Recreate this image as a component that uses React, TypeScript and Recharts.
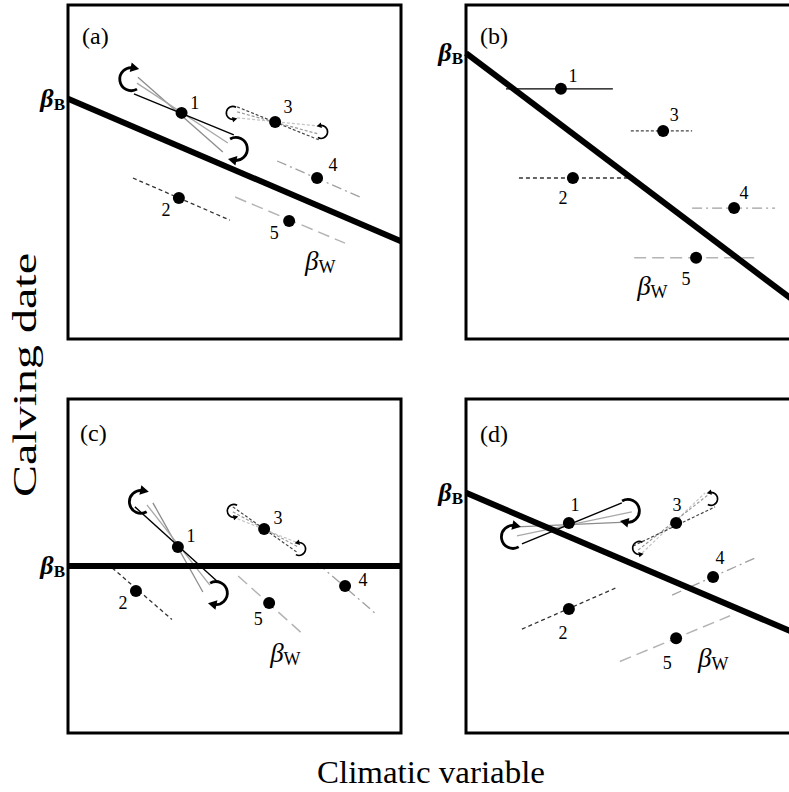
import React from 'react';
import { ScatterChart, Scatter, XAxis, YAxis, ReferenceLine, ReferenceArea } from 'recharts';

const FONT = '"Liberation Serif", "Times New Roman", Times, serif';

// ---------- panel-level data ----------
const panelNames = ['(a)', '(b)', '(c)', '(d)'];
const panelNamePos = [
  { x: 0.42, y: 9.07 },
  { x: 0.42, y: 9.07 },
  { x: 0.36, y: 8.98 },
  { x: 0.42, y: 8.95 },
];
// between-individual slope: y at x = 0 (intercept, labelled beta_B) and y at x = 10
const betweenStart = [7.19, 8.56, 5.0, 7.19];
const betweenEnd = [2.93, 1.03, 5.0, 2.94];
// position of the beta_W label
const withinLabelPos = [
  { x: 7.12, y: 2.07 },
  { x: 5.14, y: 1.32 },
  { x: 6.07, y: 2.13 },
  { x: 6.97, y: 1.98 },
];

type Pt = { id: string; x: number; y: number };
type Seg = { ind: number; tone: number; x1: number; y1: number; x2: number; y2: number };
type Arw = { x: number; y: number; kind: 'Lup' | 'Rdown' | 'Ldown' | 'Rup'; size: 'L' | 'S' };

// ---------- panel (a) ----------
const pointsA: Pt[] = [
  { id: '1', x: 3.41, y: 6.77 },
  { id: '2', x: 3.33, y: 4.22 },
  { id: '3', x: 6.22, y: 6.5 },
  { id: '4', x: 7.48, y: 4.82 },
  { id: '5', x: 6.64, y: 3.53 },
];
const labelsA: Pt[] = [
  { id: '1', x: 3.81, y: 7.07 },
  { id: '2', x: 2.94, y: 3.86 },
  { id: '3', x: 6.61, y: 6.95 },
  { id: '4', x: 7.96, y: 5.21 },
  { id: '5', x: 6.19, y: 3.17 },
];
const slopesA: Seg[] = [
  { ind: 1, tone: 1, x1: 2.1, y1: 7.84, x2: 4.65, y2: 5.6 },
  { ind: 1, tone: 2, x1: 2.07, y1: 7.66, x2: 4.8, y2: 5.87 },
  { ind: 1, tone: 0, x1: 1.98, y1: 7.34, x2: 4.98, y2: 6.11 },
  { ind: 2, tone: 0, x1: 1.95, y1: 4.82, x2: 4.86, y2: 3.56 },
  { ind: 3, tone: 2, x1: 5.08, y1: 6.62, x2: 7.51, y2: 6.38 },
  { ind: 3, tone: 1, x1: 5.08, y1: 6.8, x2: 7.51, y2: 6.14 },
  { ind: 3, tone: 0, x1: 5.08, y1: 6.95, x2: 7.54, y2: 5.96 },
  { ind: 4, tone: 0, x1: 6.28, y1: 5.33, x2: 8.77, y2: 4.25 },
  { ind: 5, tone: 0, x1: 5.02, y1: 4.25, x2: 8.32, y2: 2.87 },
];
const arrowsA: Arw[] = [
  { x: 1.9, y: 7.78, kind: 'Lup', size: 'L' },
  { x: 5.04, y: 5.69, kind: 'Rdown', size: 'L' },
  { x: 4.95, y: 6.77, kind: 'Ldown', size: 'S' },
  { x: 7.6, y: 6.2, kind: 'Rup', size: 'S' },
];

// ---------- panel (b) ----------
const pointsB: Pt[] = [
  { id: '1', x: 2.85, y: 7.49 },
  { id: '2', x: 3.21, y: 4.82 },
  { id: '3', x: 5.92, y: 6.23 },
  { id: '4', x: 8.05, y: 3.92 },
  { id: '5', x: 6.91, y: 2.43 },
];
const labelsB: Pt[] = [
  { id: '1', x: 3.21, y: 7.87 },
  { id: '2', x: 2.91, y: 4.22 },
  { id: '3', x: 6.25, y: 6.71 },
  { id: '4', x: 8.35, y: 4.37 },
  { id: '5', x: 6.61, y: 1.8 },
];
const slopesB: Seg[] = [
  { ind: 1, tone: 0, x1: 1.2, y1: 7.49, x2: 4.41, y2: 7.49 },
  { ind: 2, tone: 0, x1: 1.59, y1: 4.82, x2: 4.89, y2: 4.82 },
  { ind: 3, tone: 0, x1: 4.95, y1: 6.23, x2: 6.79, y2: 6.23 },
  { ind: 4, tone: 0, x1: 6.79, y1: 3.92, x2: 9.28, y2: 3.92 },
  { ind: 5, tone: 0, x1: 5.05, y1: 2.43, x2: 8.8, y2: 2.43 },
];
const arrowsB: Arw[] = [];

// ---------- panel (c) ----------
const pointsC: Pt[] = [
  { id: '1', x: 3.3, y: 5.57 },
  { id: '2', x: 2.04, y: 4.25 },
  { id: '3', x: 5.89, y: 6.11 },
  { id: '4', x: 8.32, y: 4.4 },
  { id: '5', x: 6.04, y: 3.89 },
];
const labelsC: Pt[] = [
  { id: '1', x: 3.69, y: 5.9 },
  { id: '2', x: 1.65, y: 3.89 },
  { id: '3', x: 6.31, y: 6.44 },
  { id: '4', x: 8.86, y: 4.58 },
  { id: '5', x: 5.71, y: 3.41 },
];
const slopesC: Seg[] = [
  { ind: 1, tone: 1, x1: 2.55, y1: 6.89, x2: 4.05, y2: 4.22 },
  { ind: 1, tone: 2, x1: 2.37, y1: 6.83, x2: 4.26, y2: 4.43 },
  { ind: 1, tone: 0, x1: 2.01, y1: 6.77, x2: 4.47, y2: 4.55 },
  { ind: 2, tone: 0, x1: 1.17, y1: 5.08, x2: 3.12, y2: 3.4 },
  { ind: 3, tone: 2, x1: 4.95, y1: 6.47, x2: 6.91, y2: 5.69 },
  { ind: 3, tone: 1, x1: 4.95, y1: 6.62, x2: 6.91, y2: 5.57 },
  { ind: 3, tone: 0, x1: 4.95, y1: 6.77, x2: 6.91, y2: 5.39 },
  { ind: 4, tone: 0, x1: 7.48, y1: 5.09, x2: 9.22, y2: 3.59 },
  { ind: 5, tone: 0, x1: 5.11, y1: 4.7, x2: 7.12, y2: 2.9 },
];
const arrowsC: Arw[] = [
  { x: 2.19, y: 6.92, kind: 'Lup', size: 'L' },
  { x: 4.44, y: 4.19, kind: 'Rdown', size: 'L' },
  { x: 4.98, y: 6.65, kind: 'Ldown', size: 'S' },
  { x: 6.94, y: 5.51, kind: 'Rup', size: 'S' },
];

// ---------- panel (d) ----------
const pointsD: Pt[] = [
  { id: '1', x: 3.09, y: 6.29 },
  { id: '2', x: 3.09, y: 3.71 },
  { id: '3', x: 6.31, y: 6.29 },
  { id: '4', x: 7.42, y: 4.67 },
  { id: '5', x: 6.31, y: 2.84 },
];
const labelsD: Pt[] = [
  { id: '1', x: 3.27, y: 6.83 },
  { id: '2', x: 2.91, y: 2.99 },
  { id: '3', x: 6.34, y: 6.83 },
  { id: '4', x: 7.63, y: 5.24 },
  { id: '5', x: 6.04, y: 2.1 },
];
const slopesD: Seg[] = [
  { ind: 1, tone: 1, x1: 1.53, y1: 6.17, x2: 4.98, y2: 6.32 },
  { ind: 1, tone: 2, x1: 1.53, y1: 5.9, x2: 4.98, y2: 6.62 },
  { ind: 1, tone: 0, x1: 1.68, y1: 5.66, x2: 4.68, y2: 6.89 },
  { ind: 2, tone: 0, x1: 1.68, y1: 3.11, x2: 4.56, y2: 4.37 },
  { ind: 3, tone: 2, x1: 5.29, y1: 5.39, x2: 7.18, y2: 7.19 },
  { ind: 3, tone: 1, x1: 5.17, y1: 5.48, x2: 7.27, y2: 7.13 },
  { ind: 3, tone: 0, x1: 5.02, y1: 5.6, x2: 7.48, y2: 6.77 },
  { ind: 4, tone: 0, x1: 6.19, y1: 4.13, x2: 8.68, y2: 5.24 },
  { ind: 5, tone: 0, x1: 4.62, y1: 2.14, x2: 7.93, y2: 3.51 },
];
const arrowsD: Arw[] = [
  { x: 1.41, y: 5.87, kind: 'Lup', size: 'L' },
  { x: 4.86, y: 6.65, kind: 'Rdown', size: 'L' },
  { x: 5.2, y: 5.54, kind: 'Ldown', size: 'S' },
  { x: 7.36, y: 7.01, kind: 'Rup', size: 'S' },
];

const panels = [
  { points: pointsA, labels: labelsA, slopes: slopesA, arrows: arrowsA },
  { points: pointsB, labels: labelsB, slopes: slopesB, arrows: arrowsB },
  { points: pointsC, labels: labelsC, slopes: slopesC, arrows: arrowsC },
  { points: pointsD, labels: labelsD, slopes: slopesD, arrows: arrowsD },
];

// ---------- styles ----------
function segStyle(ind: number, tone: number) {
  if (ind === 1) {
    if (tone === 0) return { stroke: '#000', w: 1.4, dash: undefined as string | undefined };
    if (tone === 1) return { stroke: '#8c8c8c', w: 1.3, dash: undefined };
    return { stroke: '#a8a8a8', w: 1.3, dash: undefined };
  }
  if (ind === 2) return { stroke: '#333', w: 1.3, dash: '4 3' };
  if (ind === 3) {
    if (tone === 0) return { stroke: '#444', w: 1.2, dash: '3 2' };
    if (tone === 1) return { stroke: '#9a9a9a', w: 1.2, dash: '3 2' };
    return { stroke: '#c4c4c4', w: 1.2, dash: '3 2' };
  }
  if (ind === 4) return { stroke: '#a0a0a0', w: 1.3, dash: '10 4 2 4' };
  return { stroke: '#b4b4b4', w: 1.5, dash: '12 6' };
}

const BetaBTick = (props: any) => {
  const { x, y } = props;
  return (
    <text x={x} y={y + 8} textAnchor="end" fontFamily={FONT} fontWeight="bold" fill="#000">
      <tspan fontStyle="italic" fontSize={26}>β</tspan>
      <tspan fontSize={17} dy={3}>B</tspan>
    </text>
  );
};

const dotShape = (p: any) => <circle cx={p.cx} cy={p.cy} r={6} fill="#000" />;

const numShape = (p: any) => (
  <text x={p.cx} y={p.cy} textAnchor="middle" dominantBaseline="central" fontFamily={FONT} fontSize={18} fill="#000">
    {p.payload.id}
  </text>
);

const betaWShape = (p: any) => (
  <text x={p.cx} y={p.cy} fontFamily={FONT} fill="#000">
    <tspan fontStyle="italic" fontSize={27}>β</tspan>
    <tspan fontSize={18} dy={3}>W</tspan>
  </text>
);

const makeNameShape = (name: string) => (p: any) => (
  <text x={p.cx} y={p.cy} dominantBaseline="central" fontFamily={FONT} fontSize={24} fill="#000">
    {name}
  </text>
);

const arrowShape = (p: any) => {
  const { kind, size } = p.payload as Arw;
  const r = size === 'L' ? 11.5 : 6.5;
  const sw = size === 'L' ? 2.8 : 1.6;
  const sx = kind === 'Rdown' || kind === 'Rup' ? -1 : 1;
  const sy = kind === 'Rdown' || kind === 'Ldown' ? -1 : 1;
  const a0 = (60 * Math.PI) / 180;
  const a1 = (282 * Math.PI) / 180;
  const p0 = [r * Math.cos(a0), r * Math.sin(a0)];
  const p1 = [r * Math.cos(a1), r * Math.sin(a1)];
  const t = [-Math.sin(a1), Math.cos(a1)];
  const n = [-t[1], t[0]];
  const h = r * 0.75;
  const w = r * 0.42;
  const tip = [p1[0] + t[0] * h * 0.65, p1[1] + t[1] * h * 0.65];
  const b1 = [p1[0] - t[0] * h * 0.35 + n[0] * w, p1[1] - t[1] * h * 0.35 + n[1] * w];
  const b2 = [p1[0] - t[0] * h * 0.35 - n[0] * w, p1[1] - t[1] * h * 0.35 - n[1] * w];
  return (
    <g transform={`translate(${p.cx},${p.cy}) scale(${sx},${sy})`}>
      <path
        d={`M${p0[0]},${p0[1]} A${r},${r} 0 1 1 ${p1[0]},${p1[1]}`}
        fill="none"
        stroke="#000"
        strokeWidth={sw}
      />
      <polygon points={`${tip[0]},${tip[1]} ${b1[0]},${b1[1]} ${b2[0]},${b2[1]}`} fill="#000" />
    </g>
  );
};

const PLOT_W = 333;
const PLOT_H = 334;
const AXIS_W = 68;

function Panel({ i, left, top }: { i: number; left: number; top: number }) {
  const d = panels[i];
  return (
    <div style={{ position: 'absolute', left, top }}>
      <ScatterChart
        width={AXIS_W + PLOT_W + 3}
        height={PLOT_H + 6}
        margin={{ top: 3, right: 3, bottom: 3, left: 0 }}
      >
        <XAxis type="number" dataKey="x" domain={[0, 10]} hide />
        <YAxis
          type="number"
          dataKey="y"
          domain={[0, 10]}
          width={AXIS_W}
          ticks={[betweenStart[i]]}
          interval={0}
          axisLine={false}
          tickLine={false}
          tickSize={0}
          tickMargin={3}
          tick={<BetaBTick />}
        />
        <ReferenceArea x1={0} x2={10} y1={0} y2={10} fill="none" fillOpacity={0} stroke="#000" strokeWidth={3} />
        {d.slopes.map((s, k) => {
          const st = segStyle(s.ind, s.tone);
          return (
            <ReferenceLine
              key={k}
              segment={[
                { x: s.x1, y: s.y1 },
                { x: s.x2, y: s.y2 },
              ]}
              stroke={st.stroke}
              strokeWidth={st.w}
              strokeDasharray={st.dash}
            />
          );
        })}
        <ReferenceLine
          segment={[
            { x: 0, y: betweenStart[i] },
            { x: 10, y: betweenEnd[i] },
          ]}
          stroke="#000"
          strokeWidth={6}
        />
        <Scatter data={d.points} shape={dotShape} isAnimationActive={false} />
        <Scatter data={d.labels} shape={numShape} isAnimationActive={false} />
        <Scatter data={d.arrows} shape={arrowShape} isAnimationActive={false} />
        <Scatter data={[panelNamePos[i]]} shape={makeNameShape(panelNames[i])} isAnimationActive={false} />
        <Scatter data={[withinLabelPos[i]]} shape={betaWShape} isAnimationActive={false} />
      </ScatterChart>
    </div>
  );
}

export default function App() {
  return (
    <div
      style={{
        position: 'absolute',
        left: 0,
        top: 0,
        width: 789,
        height: 792,
        overflow: 'hidden',
        background: '#fff',
      }}
    >
      <svg width={789} height={792} style={{ position: 'absolute', left: 0, top: 0 }}>
        <text
          transform="translate(36,497) rotate(-90)"
          x={0}
          y={0}
          fontFamily={FONT}
          fontSize={34}
          textLength={244}
          lengthAdjust="spacingAndGlyphs"
          fill="#000"
        >
          Calving date
        </text>
        <text
          x={317}
          y={783}
          fontFamily={FONT}
          fontSize={32}
          textLength={228}
          lengthAdjust="spacingAndGlyphs"
          fill="#000"
        >
          Climatic variable
        </text>
      </svg>
      <Panel i={0} left={0} top={2} />
      <Panel i={1} left={466 - AXIS_W} top={2} />
      <Panel i={2} left={0} top={396} />
      <Panel i={3} left={466 - AXIS_W} top={396} />
    </div>
  );
}
